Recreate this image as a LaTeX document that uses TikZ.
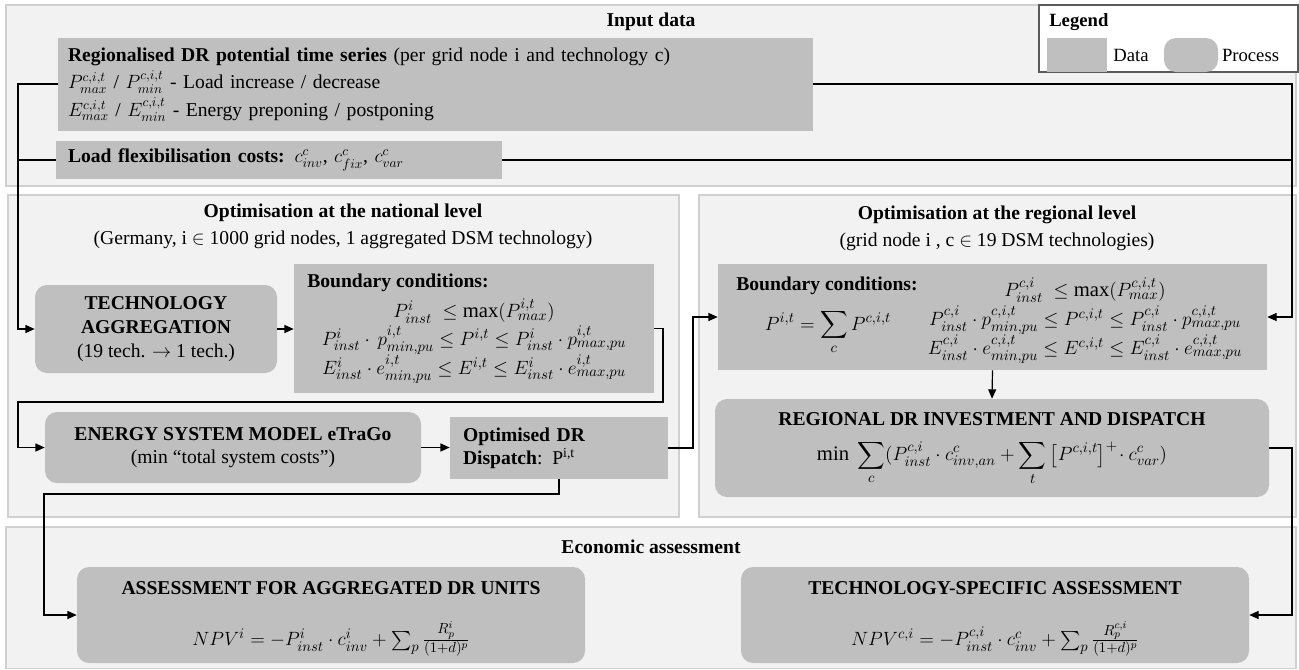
\documentclass[tikz,border=0pt]{standalone}
\usepackage{fontspec}
\setmainfont{Liberation Serif}
\usepackage{amsmath}
\usetikzlibrary{arrows.meta}
\newdimen\pxu \pxu=0.75pt
\newcommand{\fsz}{\fontsize{14.7pt}{17.5pt}\selectfont}
\newcommand{\msz}{\fontsize{15.5pt}{18pt}\selectfont}
\newcommand{\lsz}{\fontsize{14pt}{16.5pt}\selectfont}
\definecolor{framefill}{HTML}{F2F2F2}
\definecolor{framedraw}{HTML}{D0D0D0}
\definecolor{boxgray}{HTML}{BFBFBF}
\definecolor{legborder}{HTML}{5A5A5A}
\begin{document}
\begin{tikzpicture}[x=0.75pt,y=-0.75pt,
  every node/.style={font=\fsz, inner sep=0pt},
  frame/.style={draw=framedraw, fill=framefill, line width=0.8pt},
  databox/.style={fill=boxgray, inner sep=0pt},
  procbox/.style={fill=boxgray, rounded corners=9pt, inner sep=0pt},
  conn/.style={draw=black, line width=0.9pt},
  arr/.style={conn, -{Triangle[length=7pt,width=6pt]}},
  ttl/.style={font=\fsz\bfseries},
  eq/.style={font=\msz}]
\useasboundingbox (0,0) rectangle (1299,669);
\fill[white] (0,0) rectangle (1299,669);

% frames
\draw[frame] (6,5) rectangle (1296,186);
\draw[frame] (8,195) rectangle (679,517);
\draw[frame] (699,195) rectangle (1296,517);
\draw[frame] (6,527) rectangle (1296,668.5);

% frame titles
\node[ttl] (tin) at (651,22) {Input data};
\node[ttl] (tnat) at (343,213) {Optimisation at the national level};
\node (snat) at (343,240) {(Germany, i $\in$ 1000 grid nodes, 1 aggregated DSM technology)};
\node[ttl] (treg) at (997,215) {Optimisation at the regional level};
\node (sreg) at (997,242) {(grid node i , c $\in$ 19 DSM technologies)};
\node[ttl] (teco) at (651,547) {Economic assessment};

% legend
\node[draw=legborder, fill=white, line width=0.8pt, minimum width=259\pxu, minimum height=67\pxu] (leg) at (1168.5,38.5) {};
\node[font=\lsz\bfseries, anchor=west] (legt) at (1049,22) {Legend};
\node[databox, minimum width=60\pxu, minimum height=34\pxu] (legd) at (1077,55) {};
\node[font=\lsz] (legdt) at (1131,55) {Data};
\node[procbox, minimum width=54\pxu, minimum height=34\pxu] (legp) at (1191,55) {};
\node[font=\lsz] (legpt) at (1250.5,55) {Process};

% input data boxes
\node[databox, minimum width=755\pxu, minimum height=93\pxu, inner xsep=10\pxu, text width=735\pxu, align=left] (reg) at (435.5,84.5)
 {\textbf{Regionalised DR potential time series} (per grid node i and technology c)\\[3pt]
  $P^{c,i,t}_{max}$ / $P^{c,i,t}_{min}$ - Load increase / decrease\\[3pt]
  $E^{c,i,t}_{max}$ / $E^{c,i,t}_{min}$ - Energy preponing / postponing};
\node[databox, minimum width=446\pxu, minimum height=38\pxu, inner xsep=12\pxu, text width=422\pxu, align=left] (flex) at (279,160)
 {\textbf{Load flexibilisation costs:} $c^{c}_{inv}$, $c^{c}_{fix}$, $c^{c}_{var}$};

% national level
\node[procbox, minimum width=242\pxu, minimum height=88\pxu, align=center] (tech) at (156,329)
 {\textbf{TECHNOLOGY}\\[0.5pt]\textbf{AGGREGATION}\\[0.5pt](19 tech. $\rightarrow$ 1 tech.)};
\node[databox, minimum width=360\pxu, minimum height=129\pxu] (nb) at (474,328.5) {};
\node[ttl, anchor=west] (nbt) at (307,283) {Boundary conditions:};
\node[eq] (nbe1) at (474,311) {$P^{i}_{inst}\ \le \max(P^{i,t}_{max})$};
\node[eq] (nbe2) at (474,340) {$P^{i}_{inst}\cdot\, p^{i,t}_{min,pu} \le P^{i,t} \le P^{i}_{inst}\cdot p^{i,t}_{max,pu}$};
\node[eq] (nbe3) at (474,369) {$E^{i}_{inst}\cdot e^{i,t}_{min,pu} \le E^{i,t} \le E^{i}_{inst}\cdot e^{i,t}_{max,pu}$};

\node[procbox, minimum width=376\pxu, minimum height=71\pxu, align=center] (esm) at (233,447.5)
 {\textbf{ENERGY SYSTEM MODEL eTraGo}\\[0pt](min “total system costs”)};
\node[databox, minimum width=218\pxu, minimum height=62\pxu, inner xsep=13\pxu, text width=192\pxu, align=left] (opt) at (559,448)
 {\textbf{Optimised DR}\\[0pt]\textbf{Dispatch}: P\textsuperscript{i,t}};

% regional level
\node[databox, minimum width=549\pxu, minimum height=106\pxu] (rb) at (992.5,317) {};
\node[ttl, anchor=west] (rbt) at (736,286) {Boundary conditions:};
\node[eq] (rbs) at (828,332) {$\displaystyle P^{i,t} = \sum_{c} P^{c,i,t}$};
\node[eq] (rbe1) at (1085,290) {$P^{c,i}_{inst}\ \le \max(P^{c,i,t}_{max})$};
\node[eq] (rbe2) at (1085,320) {$P^{c,i}_{inst}\cdot p^{c,i,t}_{min,pu} \le P^{c,i,t} \le P^{c,i}_{inst}\cdot p^{c,i,t}_{max,pu}$};
\node[eq] (rbe3) at (1085,349) {$E^{c,i}_{inst}\cdot e^{c,i,t}_{min,pu} \le E^{c,i,t} \le E^{c,i}_{inst}\cdot e^{c,i,t}_{max,pu}$};

\node[procbox, minimum width=554\pxu, minimum height=98\pxu] (rdr) at (992,448) {};
\node[ttl] (rdrt) at (992,419) {REGIONAL DR INVESTMENT AND DISPATCH};
\node[eq] (rdrf) at (992,463) {$\min\ \displaystyle\sum_{c}(P^{c,i}_{inst}\cdot c^{c}_{inv,an} + \sum_{t}\big[P^{c,i,t}\big]^{+}\!\cdot c^{c}_{var})$};

% economic assessment
\node[procbox, minimum width=508\pxu, minimum height=96\pxu] (aagg) at (331,615) {};
\node[ttl] (aaggt) at (331,588) {ASSESSMENT FOR AGGREGATED DR UNITS};
\node[eq] (aaggf) at (331,639) {$NPV^{i} = -P^{i}_{inst}\cdot c^{i}_{inv} + \sum_{p}\frac{R^{i}_{p}}{(1+d)^{p}}$};
\node[procbox, minimum width=508\pxu, minimum height=96\pxu] (tsp) at (995,615) {};
\node[ttl] (tspt) at (995,588) {TECHNOLOGY-SPECIFIC ASSESSMENT};
\node[eq] (tspf) at (995,639) {$NPV^{c,i} = -P^{c,i}_{inst}\cdot c^{c}_{inv} + \sum_{p}\frac{R^{c,i}_{p}}{(1+d)^{p}}$};

% helper coordinates
\coordinate (xl) at (18,0);
\coordinate (xr) at (1292,0);
\coordinate (c1) at (663,402);
\coordinate (xm) at (693,0);
\coordinate (c2) at (44,494);

% connectors
\draw[arr] (reg.west |- 0,84) -- (xl |- 0,84) -- (xl |- tech.west) -- (tech.west);
\draw[conn] (flex.west) -- (flex.west -| xl);
\draw[arr] (reg.east |- 0,84) -- (xr |- 0,84) -- (xr |- rb.east) -- (rb.east);
\draw[conn] (flex.east) -- (flex.east -| xr);
\draw[arr] (tech.east) -- (tech.east -| nb.west);
\draw[arr] (nb.east) -- (nb.east -| c1) -- (c1) -- (c1 -| xl) -- (xl |- esm.west) -- (esm.west);
\draw[arr] (esm.east) -- (esm.east -| opt.west);
\draw[arr] (opt.east) -- (opt.east -| xm) -- (xm |- rb.west) -- (rb.west);
\draw[arr] (opt.south) -- (opt.south |- c2) -- (c2) -- (c2 |- aagg.west) -- (aagg.west);
\draw[arr] (rb.south) -- (rdr.north);
\draw[arr] (rdr.east) -- (rdr.east -| xr) -- (xr |- tsp.east) -- (tsp.east);
\end{tikzpicture}
\end{document}
